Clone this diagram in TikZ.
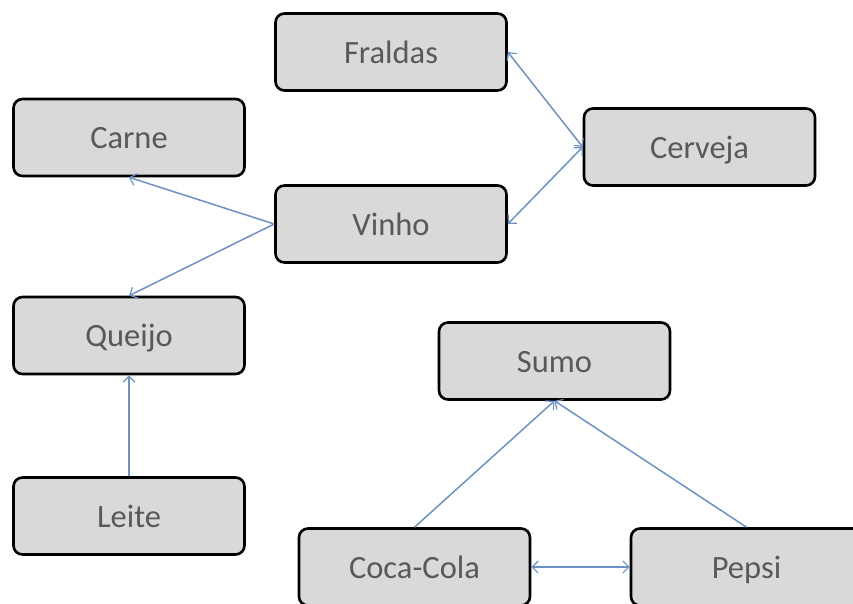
\documentclass[tikz,border=0pt]{standalone}
\usepackage{fontspec}
\setmainfont{Carlito}
\usetikzlibrary{arrows.meta}
\definecolor{boxfill}{HTML}{D9D9D9}
\definecolor{txtgray}{HTML}{595959}
\definecolor{linkblue}{HTML}{6C93C8}
\tikzset{
  itembox/.style={draw=black, line width=2.6pt, fill=boxfill, rounded corners=9pt,
    minimum width=231pt, minimum height=77pt, inner sep=0pt,
    text height=28pt, text depth=6pt,
    text=txtgray, font=\fontsize{32.5}{38}\selectfont},
  link/.style={draw=linkblue, line width=1.5pt},
  tip/.tip={Straight Barb[length=6pt,width=12pt,line width=1.2pt]},
}
\begin{document}
\begin{tikzpicture}[x=1pt,y=-1pt]
\useasboundingbox (0,0) rectangle (853,603);
\clip (0,0) rectangle (853,603);
\fill[white] (0,0) rectangle (853,603);
\node[itembox] (fraldas) at (391,52) {Fraldas};
\node[itembox] (carne) at (129,137.5) {Carne};
\node[itembox] (cerveja) at (699.5,147) {Cerveja};
\node[itembox] (vinho) at (391,224) {Vinho};
\node[itembox] (queijo) at (129,335.5) {Queijo};
\node[itembox] (sumo) at (554.5,361) {Sumo};
\node[itembox] (leite) at (129,516) {Leite};
\node[itembox] (coca) at (414.5,567) {Coca-Cola};
\node[itembox] (pepsi) at (746.5,567) {Pepsi};
\draw[link, tip-tip] (fraldas.east) -- (cerveja.west);
\draw[link, tip-tip] (vinho.east) -- (cerveja.west);
\draw[link, -tip] (vinho.west) -- (carne.south);
\draw[link, -tip] (vinho.west) -- (queijo.north);
\draw[link, -tip] (leite.north) -- (queijo.south);
\draw[link, -tip] (coca.north) -- (sumo.south);
\draw[link, -tip] (pepsi.north) -- (sumo.south);
\draw[link, tip-tip] (coca.east) -- (pepsi.west);
\end{tikzpicture}
\end{document}
